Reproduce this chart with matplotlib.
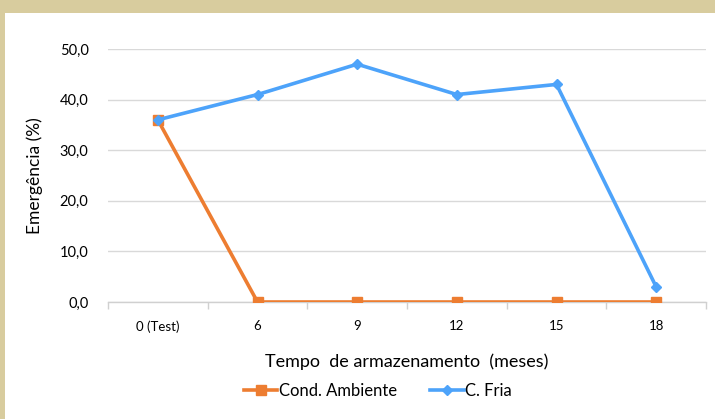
import matplotlib
matplotlib.use("Agg")
import matplotlib.pyplot as plt
from matplotlib.patches import Rectangle
import numpy as np

categories = ["0 (Test)", "6", "9", "12", "15", "18"]
cond_ambiente = [36.0, 0.0, 0.0, 0.0, 0.0, 0.0]
c_fria = [36.0, 41.0, 47.0, 41.0, 43.0, 3.0]
yticks = [0, 10, 20, 30, 40, 50]

plt.rcParams['font.family'] = ['Lato', 'DejaVu Sans']

fig = plt.figure(figsize=(7.15, 4.19), dpi=100)
fig.patch.set_facecolor('#D8CC9E')
# white chart area inside the tan frame
fig.patches.append(Rectangle((5 / 715, 0), 1, 1 - 13 / 419, transform=fig.transFigure,
                             facecolor='white', edgecolor='none', zorder=-5))

ax = fig.add_axes([108 / 715, 1 - 302 / 419, 598 / 715, (302 - 49) / 419])
ax.set_facecolor('none')

x = np.arange(len(categories))
ax.plot(x, cond_ambiente, color='#ED7D31', lw=2.6, marker='s', ms=7,
        label='Cond. Ambiente', zorder=3)
ax.plot(x, c_fria, color='#4DA3FA', lw=2.6, marker='D', ms=5.5,
        label='C. Fria', zorder=4)

ax.set_xlim(-0.5, len(categories) - 0.5)
ax.set_ylim(0, 50)
ax.set_yticks(yticks)
ax.set_yticklabels([f"{v:.1f}".replace('.', ',') for v in yticks], fontsize=10.5)
ax.set_xticks(x)
ax.set_xticklabels(categories, fontsize=9.5)
ax.set_xticks(np.arange(-0.5, len(categories), 1), minor=True)
ax.tick_params(axis='x', which='major', length=0, pad=13)
ax.tick_params(axis='x', which='minor', length=5, color='#D0D0D0', width=1)
ax.tick_params(axis='y', length=0, pad=14)

ax.grid(axis='y', color='#D9D9D9', lw=1)
ax.set_axisbelow(True)
for s in ['top', 'right', 'left']:
    ax.spines[s].set_visible(False)
ax.spines['bottom'].set_color('#D0D0D0')
ax.spines['bottom'].set_linewidth(1)

ax.set_ylabel('Emergência (%)', fontsize=12.5, labelpad=12)
ax.set_xlabel('Tempo  de armazenamento  (meses)', fontsize=13, labelpad=15)

fig.legend(*ax.get_legend_handles_labels(), loc='center',
           bbox_to_anchor=(378 / 715, 1 - 391 / 419), ncol=2, frameon=False,
           fontsize=12, handlelength=2.0, columnspacing=2.0, handletextpad=0.1)

fig.savefig('out.png', dpi=100, facecolor=fig.get_facecolor())
